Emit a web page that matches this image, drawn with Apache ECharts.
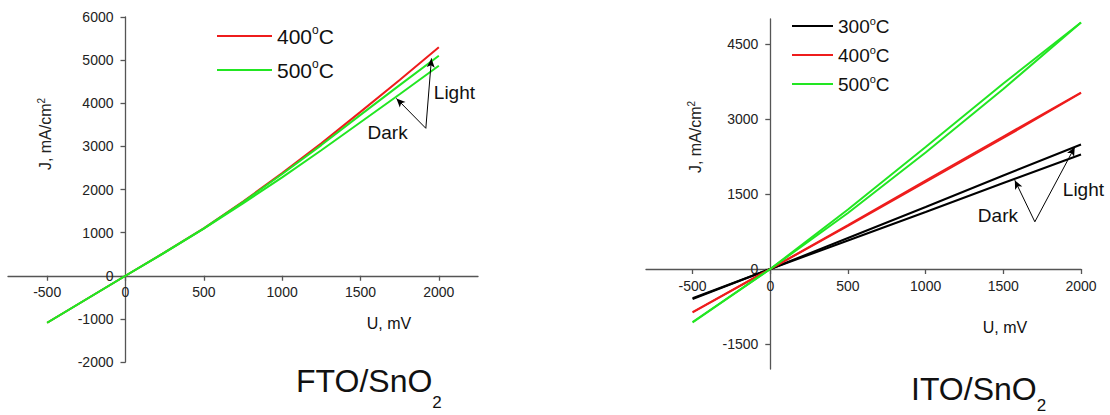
<!DOCTYPE html>
<html>
<head>
<meta charset="utf-8">
<script src="https://cdn.jsdelivr.net/npm/echarts@6/dist/echarts.min.js"></script>
<style>
html,body{margin:0;padding:0;background:#fff;}
#c{width:1110px;height:415px;}
</style>
</head>
<body>
<div id="c"></div>
<script>
// ---- Data ----
const ftoU = [-500, -250, 0, 250, 500, 750, 1000, 1250, 1500, 1750, 2000];
const fto400 = [-1090, -545, 0, 540, 1100, 1720, 2380, 3070, 3800, 4540, 5300];
const fto500Light = [-1090, -545, 0, 540, 1100, 1710, 2360, 3030, 3730, 4420, 5100];
const fto500Dark = [-1090, -545, 0, 535, 1090, 1680, 2280, 2910, 3560, 4210, 4870];

const itoU = [-500, 0, 500, 1000, 1500, 2000];
const ito300Light = [-600, 0, 620, 1240, 1870, 2490];
const ito300Dark = [-585, 0, 570, 1140, 1720, 2290];
const ito400Light = [-870, 0, 880, 1770, 2650, 3530];
const ito400Dark = [-860, 0, 860, 1740, 2620, 3520];
const ito500Light = [-1070, 0, 1190, 2440, 3710, 4930];
const ito500Dark = [-1060, 0, 1120, 2330, 3600, 4930];

const ftoXTicks = [-500, 0, 500, 1000, 1500, 2000];
const itoXTicks = [-500, 0, 500, 1000, 1500, 2000];
const itoYTicks = [-1500, 0, 1500, 3000, 4500];

const legendFTO = ['400°C', '500°C'];
const legendITO = ['300°C', '400°C', '500°C'];

// annotation anchors in data coordinates
const ftoArrowBase = [1917, 3419];
const ftoDarkTip = [1729, 4113];
const ftoLightTip = [1953, 5040];
const itoArrowBase = [1703, 944];
const itoDarkTip = [1574, 1775];
const itoLightTip = [1960, 2440];

const RED = '#ee1c1c', GREEN = '#22e622', BLACK = '#000000';
const FONT = 'Liberation Sans, Arial, sans-serif';
const AX = '#555';

const G0 = {left:8, top:17, width:470, height:345};
const G1 = {left:646, top:19, width:435, height:350};
const X0 = [-750, 2250], Y0 = [-2000, 6000];
const X1 = [-800, 2000], Y1 = [-2000, 5000];

function pairs(xs, ys){ return xs.map((x,i)=>[x, ys[i]]); }

function lineSeries(name, xs, ys, color, gi, extra){
  return Object.assign({
    type:'line', name, xAxisIndex:gi, yAxisIndex:gi,
    data: pairs(xs, ys), symbol:'none', showSymbol:false,
    lineStyle:{color, width:2}, itemStyle:{color},
    emphasis:{disabled:true}, silent:true, z:2
  }, extra||{});
}

function arrows(base, t1, t2){
  return {
    silent:true, symbol:['none','arrow'], symbolSize:[6,9],
    lineStyle:{color:'#000', width:1, type:'solid'},
    label:{show:false}, emphasis:{disabled:true},
    data:[[{coord:base},{coord:t1}],[{coord:base},{coord:t2}]]
  };
}

const numFmt = v => String(v);

// offset that moves an axis from the grid edge to the zero line
function zeroOffset(range, size){ return -((0 - range[0]) / (range[1] - range[0])) * size; }

function xAxisCfg(gi, range, ticks, margin, yRange, g){
  return {
    type:'value', gridIndex:gi, min:range[0], max:range[1], position:'bottom',
    offset: zeroOffset(yRange, g.height),
    axisLine:{show:true, onZero:false, lineStyle:{color:AX, width:1.3}},
    axisTick:{show:true, length:5, inside:false, customValues:ticks, lineStyle:{color:AX, width:1.3}},
    axisLabel:{customValues:ticks, formatter:numFmt, fontSize:14, color:'#222', fontFamily:FONT, margin, hideOverlap:false},
    splitLine:{show:false}
  };
}
function yAxisCfg(gi, range, xRange, g, ticks){
  const cfg = {
    type:'value', gridIndex:gi, min:range[0], max:range[1], position:'left',
    offset: zeroOffset(xRange, g.width),
    axisLine:{show:true, onZero:false, lineStyle:{color:AX, width:1.3}},
    axisTick:{show:true, length:5, inside:false, lineStyle:{color:AX, width:1.3}},
    axisLabel:{formatter:numFmt, fontSize:14, color:'#222', fontFamily:FONT, margin:12, hideOverlap:false},
    splitLine:{show:false}
  };
  if (ticks) { cfg.axisTick.customValues = ticks; cfg.axisLabel.customValues = ticks; }
  else { cfg.interval = 1000; }
  return cfg;
}

const supFmt = n => n.replace('°', '{o|o}');

const chart = echarts.init(document.getElementById('c'), null, {renderer:'svg'});

const option = {
  animation:false,
  backgroundColor:'#fff',
  grid:[Object.assign({containLabel:false}, G0), Object.assign({containLabel:false}, G1)],
  xAxis:[
    xAxisCfg(0, X0, ftoXTicks, 9, Y0, G0),
    xAxisCfg(1, X1, itoXTicks, 10, Y1, G1)
  ],
  yAxis:[
    yAxisCfg(0, Y0, X0, G0, null),
    yAxisCfg(1, Y1, X1, G1, itoYTicks)
  ],
  legend:[
    {
      left:217, top:24, padding:0, orient:'vertical', icon:'rect', itemWidth:55, itemHeight:2, itemGap:10,
      data:legendFTO, formatter:supFmt, selectedMode:false,
      textStyle:{fontSize:21, lineHeight:24, color:'#111', fontFamily:FONT,
        rich:{o:{fontSize:12, lineHeight:12, verticalAlign:'top', color:'#111', fontFamily:FONT}}}
    },
    {
      left:792, top:15, padding:0, orient:'vertical', icon:'rect', itemWidth:41, itemHeight:2, itemGap:7,
      data:legendITO, formatter:supFmt, selectedMode:false,
      textStyle:{fontSize:19, lineHeight:22, color:'#111', fontFamily:FONT,
        rich:{o:{fontSize:11, lineHeight:11, verticalAlign:'top', color:'#111', fontFamily:FONT}}}
    }
  ],
  series:[
    lineSeries('400°C', ftoU, fto400, RED, 0, {markLine: arrows(ftoArrowBase, ftoDarkTip, ftoLightTip)}),
    lineSeries('500°C', ftoU, fto500Light, GREEN, 0),
    lineSeries('500°C', ftoU, fto500Dark, GREEN, 0),
    lineSeries('300°C', itoU, ito300Light, BLACK, 1, {markLine: arrows(itoArrowBase, itoDarkTip, itoLightTip)}),
    lineSeries('300°C', itoU, ito300Dark, BLACK, 1),
    lineSeries('400°C', itoU, ito400Light, RED, 1),
    lineSeries('400°C', itoU, ito400Dark, RED, 1),
    lineSeries('500°C', itoU, ito500Light, GREEN, 1),
    lineSeries('500°C', itoU, ito500Dark, GREEN, 1)
  ]
};
chart.setOption(option);

function txt(x, y, text, size, align){
  return {type:'text', x, y, silent:true,
    style:{text, fontSize:size, fontFamily:FONT, fill:'#111', align:align||'left', verticalAlign:'middle'}};
}

// annotation labels placed via data coordinates
const pFL = chart.convertToPixel({gridIndex:0}, [1968, 4259]);
const pFD = chart.convertToPixel({gridIndex:0}, [1545, 3333]);
const pIL = chart.convertToPixel({gridIndex:1}, [1883, 1596]);
const pID = chart.convertToPixel({gridIndex:1}, [1336, 1077]);

const titleRich = (L) => ({
  m:{fontSize:32, lineHeight:L, fontFamily:FONT, fill:'#111'},
  s:{fontSize:17, lineHeight:17, verticalAlign:'bottom', fontFamily:FONT, fill:'#111'}
});
const jLabel = (x, y) => ({type:'text', x, y, rotation:Math.PI/2, silent:true,
  style:{text:'J, mA/cm{s|2}', fontSize:16, lineHeight:18, fontFamily:FONT, fill:'#222', align:'center', verticalAlign:'middle',
    rich:{s:{fontSize:10, lineHeight:10, verticalAlign:'top', fontFamily:FONT, fill:'#222'}}}});

chart.setOption({
  graphic:[
    txt(pFL[0], pFL[1], 'Light', 19),
    txt(pFD[0], pFD[1], 'Dark', 19),
    txt(pIL[0], pIL[1], 'Light', 19),
    txt(pID[0], pID[1], 'Dark', 19),
    txt(389, 323, 'U, mV', 16, 'center'),
    txt(1005, 327, 'U, mV', 16, 'center'),
    jLabel(45, 134),
    jLabel(695, 137),
    {type:'text', x:296, y:381, silent:true,
      style:{text:'{m|FTO/SnO}{s|2}', fontFamily:FONT, fill:'#111', align:'left', verticalAlign:'middle', rich:titleRich(60)}},
    {type:'text', x:911, y:389, silent:true,
      style:{text:'{m|ITO/SnO}{s|2}', fontFamily:FONT, fill:'#111', align:'left', verticalAlign:'middle', rich:titleRich(50)}}
  ]
});
</script>
</body>
</html>
